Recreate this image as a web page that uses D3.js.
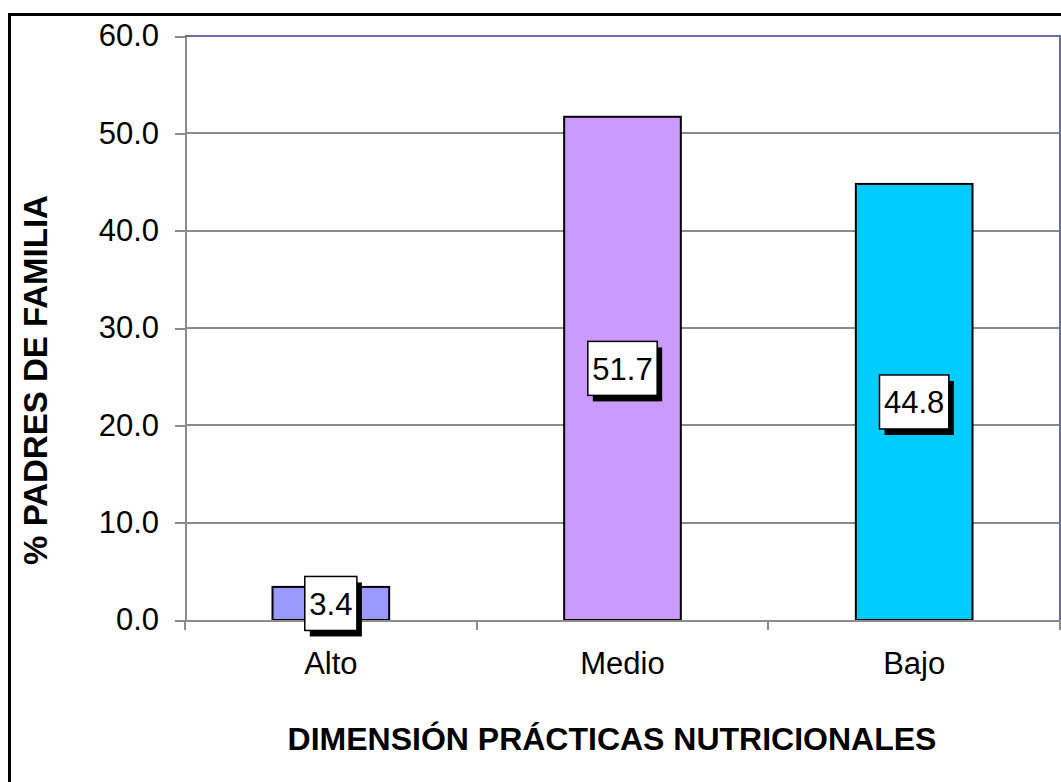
<!DOCTYPE html>
<meta charset="utf-8">
<script src="https://d3js.org/d3.v7.min.js"></script>
<style type="text/css">
    body {
        margin: 0;
        background: #fff;
    }

    text {
        font-family: "Liberation Sans", Arial, sans-serif;
        fill: #000;
    }

    .axis path,
    .axis line {
        fill: none;
        stroke: #8c8c8c;
        stroke-width: 2px;
        shape-rendering: crispEdges;
    }

    .grid line {
        stroke: #8c8c8c;
        stroke-width: 2px;
        shape-rendering: crispEdges;
    }

    .title {
        font-weight: bold;
    }
</style>
<body>
<script>
    // chart data
    var categories = ["Alto", "Medio", "Bajo"];
    var values = [3.4, 51.7, 44.8];
    var barColors = ["#9999ff", "#cc99ff", "#00ccff"];
    var yTicks = [0, 10, 20, 30, 40, 50, 60];
    var yTitle = "% PADRES DE FAMILIA";
    var xTitle = "DIMENSIÓN PRÁCTICAS NUTRICIONALES";

    var margin = {top: 36, right: 1, bottom: 162, left: 185},
        width = 1061 - margin.left - margin.right,
        height = 782 - margin.top - margin.bottom;

    var xScale = d3.scaleBand()
        .domain(categories)
        .range([0, width])
        .paddingInner(0.6)
        .paddingOuter(0.3);

    var yScale = d3.scaleLinear()
        .domain([0, 60])
        .range([height, 0]);

    var root = d3.select("body")
        .append("svg")
        .attr("width", 1061)
        .attr("height", 782);

    // outer chart frame (runs past the right and bottom edges)
    root.append("rect")
        .attr("x", 9.5)
        .attr("y", 14.5)
        .attr("width", 1100)
        .attr("height", 800)
        .style("fill", "none")
        .style("stroke", "#000")
        .style("stroke-width", 3);

    var svg = root.append("g")
        .attr("transform", "translate(" + margin.left + "," + margin.top + ")");

    // gridlines
    svg.append("g")
        .attr("class", "grid")
        .selectAll("line")
        .data(yTicks.filter(function(d){ return d > 0 && d < 60; }))
        .enter()
        .append("line")
        .attr("x1", 0)
        .attr("x2", width)
        .attr("y1", function(d){ return yScale(d); })
        .attr("y2", function(d){ return yScale(d); });

    // plot area border top / right
    svg.append("path")
        .attr("d", "M0," + yScale(60) + "H" + width + "V" + yScale(0))
        .style("fill", "none")
        .style("stroke", "#6e6e9e")
        .style("stroke-width", 2)
        .style("shape-rendering", "crispEdges");

    // bars
    svg.selectAll(".bar")
        .data(values)
        .enter()
        .append("rect")
        .attr("class", "bar")
        .attr("x", function(d, i){ return xScale(categories[i]); })
        .attr("y", function(d){ return yScale(d); })
        .attr("width", xScale.bandwidth())
        .attr("height", function(d){ return yScale(0) - yScale(d); })
        .style("fill", function(d, i){ return barColors[i]; })
        .style("stroke", "#000")
        .style("stroke-width", 2);

    // y axis
    var yAxis = svg.append("g")
        .attr("class", "axis")
        .call(d3.axisLeft(yScale).tickValues(yTicks).tickSize(10).tickPadding(16)
            .tickFormat(d3.format(".1f")).tickSizeOuter(0));
    yAxis.selectAll("text").style("font-size", "31px");

    // x axis with labels, ticks sit on category boundaries
    var xAxis = svg.append("g")
        .attr("class", "axis")
        .attr("transform", "translate(0," + height + ")")
        .call(d3.axisBottom(xScale).tickSize(0).tickPadding(32).tickSizeOuter(0));
    xAxis.selectAll("text").style("font-size", "31px");

    xAxis.selectAll(".bound")
        .data(d3.range(categories.length + 1))
        .enter()
        .append("line")
        .attr("class", "bound")
        .attr("x1", function(d){ return d * xScale.step(); })
        .attr("x2", function(d){ return d * xScale.step(); })
        .attr("y1", 0)
        .attr("y2", 10);

    // value labels with shadow box
    var labels = svg.selectAll(".lbl")
        .data(values)
        .enter()
        .append("g")
        .attr("class", "lbl")
        .attr("transform", function(d, i){
            return "translate(" + (xScale(categories[i]) + xScale.bandwidth() / 2) + "," + yScale(d / 2) + ")";
        });

    labels.each(function(d){
        var g = d3.select(this);
        var shadow = g.append("rect").style("fill", "#000");
        var box = g.append("rect")
            .style("fill", "#fff")
            .style("stroke", "#000")
            .style("stroke-width", 1.5);
        var t = g.append("text")
            .attr("text-anchor", "middle")
            .attr("dy", "0.36em")
            .style("font-size", "31px")
            .text(d3.format(".1f")(d));
        var w = t.node().getComputedTextLength() + 9,
            h = 54;
        box.attr("x", -w / 2).attr("y", -h / 2).attr("width", w).attr("height", h);
        shadow.attr("x", -w / 2 + 5).attr("y", -h / 2 + 6).attr("width", w).attr("height", h);
    });

    // axis titles
    root.append("text")
        .attr("class", "title")
        .attr("transform", "translate(47,380) rotate(-90)")
        .attr("text-anchor", "middle")
        .style("font-size", "33px")
        .text(yTitle);

    root.append("text")
        .attr("class", "title")
        .attr("x", 612)
        .attr("y", 750)
        .attr("text-anchor", "middle")
        .style("font-size", "32px")
        .text(xTitle);
</script>
</body>
